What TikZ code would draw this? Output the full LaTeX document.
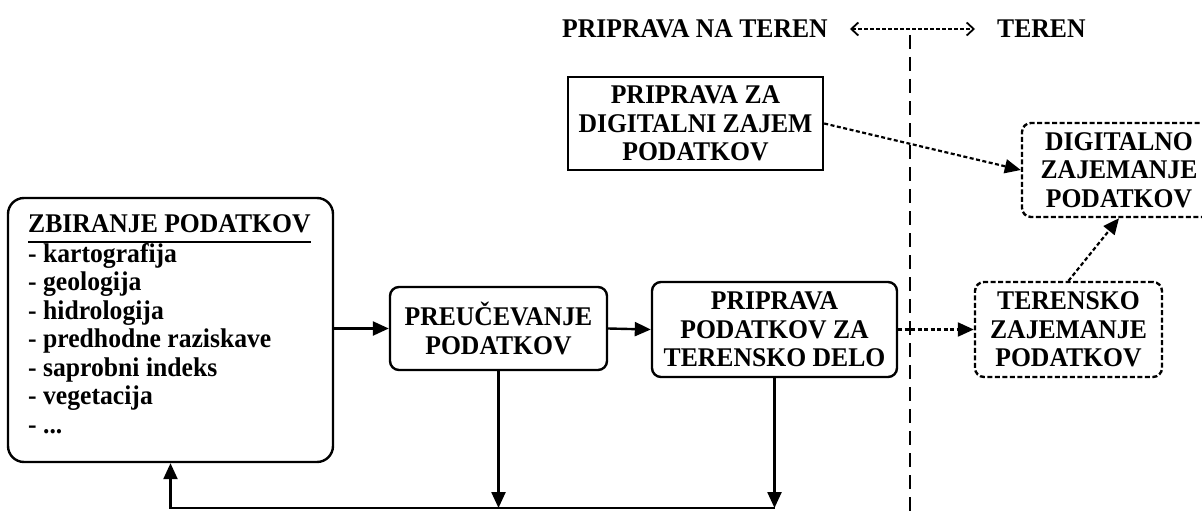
\documentclass[tikz,border=0pt]{standalone}
\usepackage{fontspec}
\setmainfont{Liberation Serif}[FakeStretch=0.95]
\usetikzlibrary{arrows.meta,calc}

\tikzset{
  lbl/.style={font=\fontsize{27}{28.5}\selectfont\bfseries, inner sep=0pt, align=center},
  solidbox/.style={draw, line width=2.4pt, lbl},
  roundbox/.style={solidbox, rounded corners=9pt},
  dashbox/.style={roundbox, dash pattern=on 5pt off 2.5pt},
  flow/.style={line width=2.4pt, -{Triangle[length=16pt,width=14pt]}},
  dotflow/.style={line width=2.2pt, dash pattern=on 4pt off 2.5pt, -{Triangle[length=16pt,width=14pt]}},
  boundary/.style={line width=2pt, dash pattern=on 14pt off 8pt}
}

\begin{document}
\begin{tikzpicture}[x=1pt, y=-1pt]
\useasboundingbox (0,0) rectangle (1202,511);

% phase labels along the top
\node[lbl] (prep) at (695,29) {PRIPRAVA NA TEREN};
\node[lbl, anchor=west] (field) at (997,29) {TEREN};
\draw[line width=1.8pt, dash pattern=on 3.5pt off 2.5pt,
      {Straight Barb[length=7pt,width=13pt]}-{Straight Barb[length=7pt,width=13pt]}]
  ([xshift=22pt]prep.east) -- ([xshift=-22pt]field.west);

% boundary between the two phases
\coordinate (btop) at (910,35);
\coordinate (bbot) at (910,511);
\draw[boundary] (btop) -- (bbot);

% process boxes
\node[solidbox, minimum width=255pt, minimum height=93pt] (pdz) at (695.5,123.5)
  {PRIPRAVA ZA\\DIGITALNI ZAJEM\\PODATKOV};
\node[dashbox, minimum width=194pt, minimum height=94pt] (dz) at (1119,170)
  {DIGITALNO\\ZAJEMANJE\\PODATKOV};
\node[draw, line width=2.4pt, rounded corners=16pt, minimum width=325pt, minimum height=264pt] (zb) at (170.5,330) {};
\node[lbl, anchor=north west, align=left] (zbtitle) at (28,214) {ZBIRANJE PODATKOV};
\draw[line width=1.6pt] ($(zbtitle.base west)+(0,10)$) -- ($(zbtitle.base east)+(0,10)$);
\node[lbl, anchor=north west, align=left] (zbitems) at (28,243)
  {- kartografija\\- geologija\\- hidrologija\\- predhodne raziskave\\- saprobni indeks\\- vegetacija\\- ...};
\node[roundbox, minimum width=217pt, minimum height=83pt] (pre) at (498.5,328.5)
  {PREUČEVANJE\\PODATKOV};
\node[roundbox, minimum width=245pt, minimum height=95pt] (ppt) at (774.5,329.5)
  {PRIPRAVA\\PODATKOV ZA\\TERENSKO DELO};
\node[dashbox, minimum width=187pt, minimum height=95pt] (tz) at (1068.5,329.5)
  {TERENSKO\\ZAJEMANJE\\PODATKOV};

% main flow
\draw[flow] (zb.east |- pre.west) -- (pre.west);
\draw[flow] (pre.east) -- (ppt.west);
\draw[dotflow] (ppt.east) -- (tz.west);
\draw[dotflow] (tz.north) -- (dz.south);
\draw[dotflow] (pdz.east) -- (dz.west);

% feedback to data collection
\coordinate (fb) at (0,508);
\draw[flow] (pre.south) -- (pre.south |- fb);
\draw[flow] (ppt.south) -- (ppt.south |- fb);
\draw[flow] (ppt.south |- fb) -- (zb.south |- fb) -- (zb.south);
\end{tikzpicture}
\end{document}
